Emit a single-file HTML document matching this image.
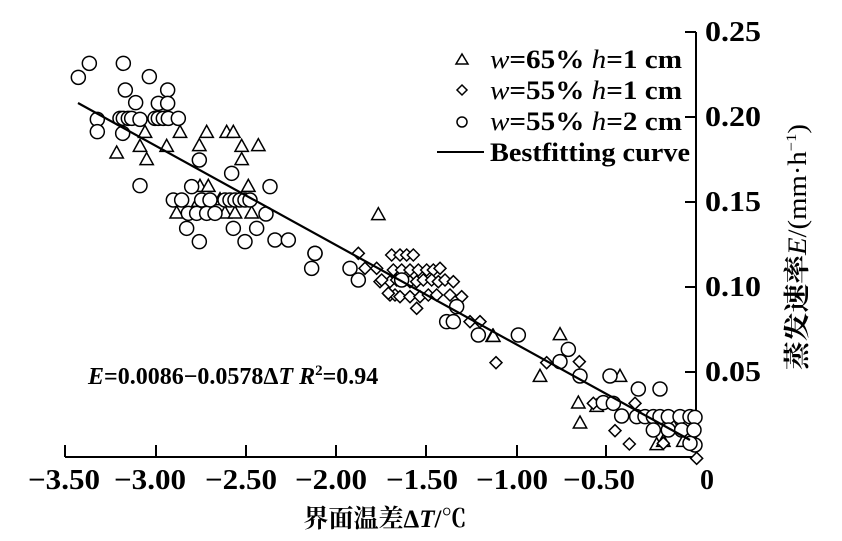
<!DOCTYPE html>
<html><head><meta charset="utf-8"><style>
html,body{margin:0;padding:0;background:#fff;width:842px;height:541px;overflow:hidden}
text{font-family:"Liberation Serif","Noto Serif CJK SC",serif;font-weight:bold;fill:#000}
</style></head><body>
<svg width="842" height="541" viewBox="0 0 842 541" xmlns="http://www.w3.org/2000/svg">
<defs>
<circle id="c" r="21" fill="#fff" stroke="#000" stroke-width="4.5"/>
<path id="t" d="M0,-22 L20,14 L-20,14Z" fill="#fff" stroke="#000" stroke-width="4.5"/>
<path id="d" d="M0,-18 L18,0 L0,18 L-18,0Z" fill="#fff" stroke="#000" stroke-width="4.5"/>
</defs>
<g stroke="#000" stroke-width="2" fill="none">
<path d="M65,457 H696 V32"/>
<path d="M65,457 V445 M156,457 V445 M246,457 V445 M336,457 V445 M426,457 V445 M517,457 V445 M606,457 V445"/>
<path d="M696,32 H685 M696,117 H685 M696,202 H685 M696,287 H685 M696,372 H685"/>
</g>
<g font-size="28">
<text x="28" y="489" textLength="72" lengthAdjust="spacingAndGlyphs">−3.50</text>
<text x="114" y="489" textLength="72" lengthAdjust="spacingAndGlyphs">−3.00</text>
<text x="205" y="489" textLength="72" lengthAdjust="spacingAndGlyphs">−2.50</text>
<text x="295" y="489" textLength="72" lengthAdjust="spacingAndGlyphs">−2.00</text>
<text x="386" y="489" textLength="72" lengthAdjust="spacingAndGlyphs">−1.50</text>
<text x="476" y="489" textLength="72" lengthAdjust="spacingAndGlyphs">−1.00</text>
<text x="563" y="489" textLength="72" lengthAdjust="spacingAndGlyphs">−0.50</text>
<text x="707" y="489" text-anchor="middle">0</text>
<text x="705" y="41" textLength="56" lengthAdjust="spacingAndGlyphs">0.25</text>
<text x="705" y="126" textLength="56" lengthAdjust="spacingAndGlyphs">0.20</text>
<text x="705" y="211" textLength="56" lengthAdjust="spacingAndGlyphs">0.15</text>
<text x="705" y="296" textLength="56" lengthAdjust="spacingAndGlyphs">0.10</text>
<text x="705" y="381" textLength="56" lengthAdjust="spacingAndGlyphs">0.05</text>
</g>
<text x="385" y="527" font-size="25" text-anchor="middle">界面温差Δ<tspan font-style="italic">T</tspan>/<tspan font-family="Noto Serif CJK SC, serif">℃</tspan></text>
<text transform="translate(806,247) rotate(-90)" font-size="26" text-anchor="middle" textLength="246" lengthAdjust="spacingAndGlyphs">蒸发速率<tspan font-style="italic" font-weight="normal">E</tspan><tspan font-weight="normal">/(mm·h</tspan><tspan font-size="15" dy="-10" font-weight="normal">−1</tspan><tspan dy="10" font-weight="normal">)</tspan></text>
<text x="88" y="384" font-size="24"><tspan font-style="italic">E</tspan>=0.0086−0.0578Δ<tspan font-style="italic">T</tspan>  <tspan font-style="italic">R</tspan><tspan font-size="15" dy="-9">2</tspan><tspan dy="9">=0.94</tspan></text>
<g font-size="26">
<text x="490" y="68" textLength="192" lengthAdjust="spacingAndGlyphs"><tspan font-style="italic" font-weight="normal">w</tspan>=65% <tspan font-style="italic" font-weight="normal">h</tspan>=1 cm</text>
<text x="490" y="99" textLength="192" lengthAdjust="spacingAndGlyphs"><tspan font-style="italic" font-weight="normal">w</tspan>=55% <tspan font-style="italic" font-weight="normal">h</tspan>=1 cm</text>
<text x="490" y="130" textLength="192" lengthAdjust="spacingAndGlyphs"><tspan font-style="italic" font-weight="normal">w</tspan>=55% <tspan font-style="italic" font-weight="normal">h</tspan>=2 cm</text>
<text x="490" y="161" textLength="200" lengthAdjust="spacingAndGlyphs">Bestfitting curve</text>
</g>
<g fill="#fff" stroke="#000" stroke-width="1.5">
<path d="M462,54 L468,64 L456,64Z"/>
<path d="M462,85 L467,90 L462,95 L457,90Z"/>
<circle cx="462" cy="122" r="5"/>
</g>
<path d="M437,152 H484" stroke="#000" stroke-width="2"/>
<g transform="translate(60,40) scale(0.33333)">
<use href="#t" x="170" y="340"/><use href="#t" x="240" y="320"/><use href="#t" x="255" y="278"/><use href="#t" x="260" y="360"/><use href="#t" x="320" y="320"/><use href="#t" x="360" y="278"/><use href="#t" x="418" y="318"/><use href="#t" x="440" y="278"/><use href="#t" x="500" y="278"/><use href="#t" x="520" y="278"/><use href="#t" x="545" y="320"/><use href="#t" x="545" y="360"/><use href="#t" x="595" y="318"/><use href="#t" x="420" y="440"/><use href="#t" x="445" y="440"/><use href="#t" x="565" y="440"/><use href="#t" x="350" y="520"/><use href="#t" x="495" y="520"/><use href="#t" x="525" y="520"/><use href="#t" x="575" y="520"/><use href="#t" x="480" y="480"/><use href="#t" x="415" y="485"/>
<use href="#c" x="55" y="112"/><use href="#c" x="88" y="70"/><use href="#c" x="190" y="70"/><use href="#c" x="268" y="110"/><use href="#c" x="196" y="150"/><use href="#c" x="323" y="150"/><use href="#c" x="227" y="188"/><use href="#c" x="295" y="190"/><use href="#c" x="323" y="190"/><use href="#c" x="112" y="238"/><use href="#c" x="180" y="235"/><use href="#c" x="190" y="235"/><use href="#c" x="205" y="235"/><use href="#c" x="215" y="235"/><use href="#c" x="240" y="238"/><use href="#c" x="285" y="235"/><use href="#c" x="295" y="235"/><use href="#c" x="310" y="235"/><use href="#c" x="325" y="235"/><use href="#c" x="355" y="235"/><use href="#c" x="112" y="275"/><use href="#c" x="188" y="280"/><use href="#c" x="240" y="437"/><use href="#c" x="395" y="440"/><use href="#c" x="418" y="360"/><use href="#c" x="515" y="400"/><use href="#c" x="630" y="440"/><use href="#c" x="340" y="480"/><use href="#c" x="365" y="480"/><use href="#c" x="425" y="480"/><use href="#c" x="450" y="480"/><use href="#c" x="495" y="480"/><use href="#c" x="510" y="480"/><use href="#c" x="525" y="480"/><use href="#c" x="540" y="480"/><use href="#c" x="555" y="480"/><use href="#c" x="570" y="480"/><use href="#c" x="385" y="520"/><use href="#c" x="410" y="520"/><use href="#c" x="440" y="520"/><use href="#c" x="465" y="520"/><use href="#c" x="618" y="522"/><use href="#c" x="380" y="565"/><use href="#c" x="520" y="565"/><use href="#c" x="590" y="565"/><use href="#c" x="418" y="605"/><use href="#c" x="555" y="605"/><use href="#c" x="645" y="600"/><use href="#c" x="685" y="600"/><use href="#c" x="765" y="640"/>
</g>
<g transform="translate(300,190) scale(0.33333)">
<use href="#d" x="175" y="190"/><use href="#d" x="195" y="235"/><use href="#d" x="230" y="235"/><use href="#d" x="240" y="275"/><use href="#d" x="275" y="195"/><use href="#d" x="300" y="195"/><use href="#d" x="320" y="195"/><use href="#d" x="340" y="195"/><use href="#d" x="280" y="240"/><use href="#d" x="305" y="240"/><use href="#d" x="330" y="240"/><use href="#d" x="355" y="240"/><use href="#d" x="380" y="240"/><use href="#d" x="400" y="240"/><use href="#d" x="420" y="235"/><use href="#d" x="270" y="275"/><use href="#d" x="290" y="270"/><use href="#d" x="330" y="275"/><use href="#d" x="350" y="275"/><use href="#d" x="370" y="270"/><use href="#d" x="395" y="270"/><use href="#d" x="415" y="275"/><use href="#d" x="435" y="270"/><use href="#d" x="460" y="275"/><use href="#d" x="270" y="315"/><use href="#d" x="285" y="315"/><use href="#d" x="300" y="320"/><use href="#d" x="330" y="320"/><use href="#d" x="360" y="320"/><use href="#d" x="385" y="315"/><use href="#d" x="410" y="315"/><use href="#d" x="450" y="315"/><use href="#d" x="485" y="320"/><use href="#d" x="350" y="355"/><use href="#d" x="510" y="395"/><use href="#d" x="540" y="395"/><use href="#d" x="245" y="270"/><use href="#d" x="265" y="310"/>
<use href="#c" x="45" y="190"/><use href="#c" x="35" y="235"/><use href="#c" x="150" y="235"/><use href="#c" x="175" y="270"/><use href="#c" x="305" y="270"/><use href="#c" x="470" y="350"/><use href="#c" x="440" y="395"/><use href="#c" x="460" y="395"/><use href="#c" x="535" y="435"/>
<use href="#t" x="235" y="75"/><use href="#t" x="578" y="440"/>
</g>
<g transform="translate(490,310) scale(0.33333)">
<use href="#t" x="10" y="80"/><use href="#t" x="210" y="75"/><use href="#t" x="150" y="200"/><use href="#t" x="390" y="200"/><use href="#t" x="265" y="280"/><use href="#t" x="320" y="290"/><use href="#t" x="270" y="340"/><use href="#t" x="500" y="405"/><use href="#t" x="520" y="395"/><use href="#t" x="580" y="395"/><use href="#t" x="550" y="350"/>
<use href="#d" x="18" y="158"/><use href="#d" x="170" y="158"/><use href="#d" x="268" y="155"/><use href="#d" x="310" y="280"/><use href="#d" x="435" y="280"/><use href="#d" x="375" y="362"/><use href="#d" x="418" y="402"/><use href="#d" x="520" y="400"/><use href="#d" x="620" y="445"/>
<use href="#c" x="85" y="75"/><use href="#c" x="235" y="118"/><use href="#c" x="210" y="155"/><use href="#c" x="270" y="198"/><use href="#c" x="360" y="198"/><use href="#c" x="445" y="237"/><use href="#c" x="510" y="237"/><use href="#c" x="340" y="278"/><use href="#c" x="370" y="280"/><use href="#c" x="395" y="318"/><use href="#c" x="440" y="320"/><use href="#c" x="465" y="320"/><use href="#c" x="490" y="320"/><use href="#c" x="510" y="320"/><use href="#c" x="535" y="320"/><use href="#c" x="570" y="320"/><use href="#c" x="600" y="320"/><use href="#c" x="615" y="322"/><use href="#c" x="490" y="360"/><use href="#c" x="535" y="360"/><use href="#c" x="575" y="360"/><use href="#c" x="612" y="360"/><use href="#c" x="615" y="405"/><use href="#c" x="600" y="400"/>
</g>
<path d="M78,103 L690,440" stroke="#000" stroke-width="2.2"/>
</svg>
</body></html>
